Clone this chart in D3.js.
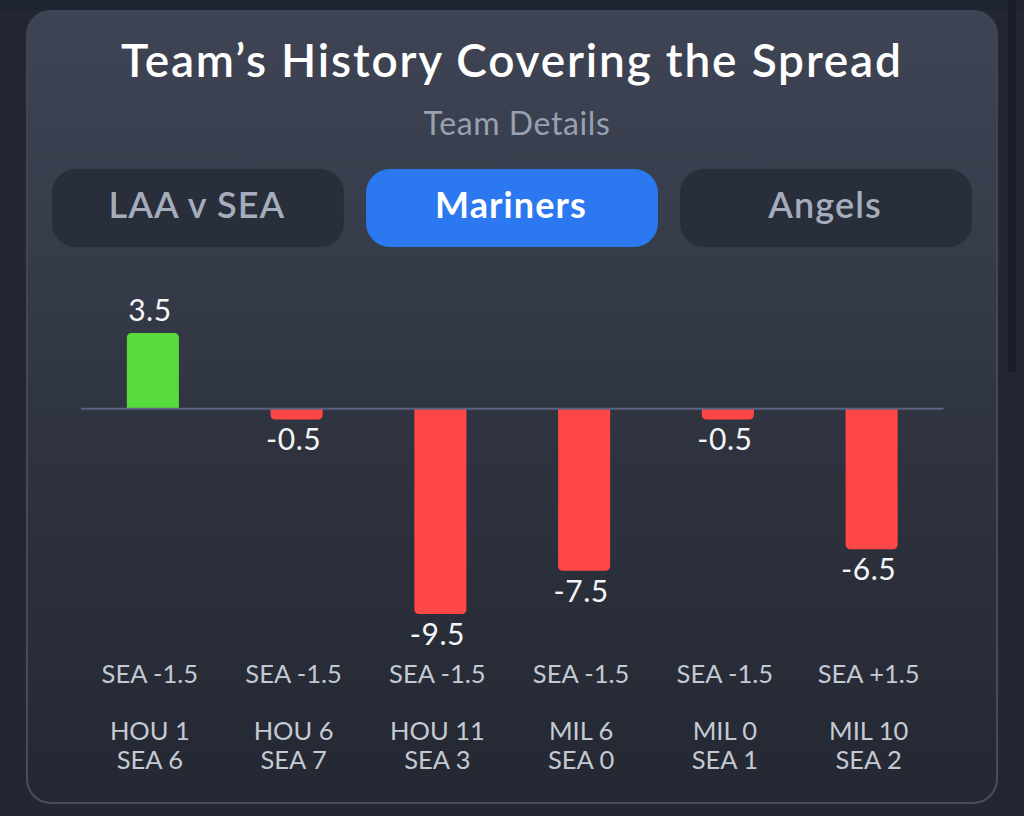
<!DOCTYPE html>
<html><head><meta charset="utf-8">
<script src="https://cdn.jsdelivr.net/npm/d3@7"></script>
<style>html,body{margin:0;padding:0;background:#1f2431;overflow:hidden}svg{display:block}text{font-family:Lato,sans-serif}</style>
</head><body><svg id="c" width="1024" height="816"></svg>
<script>
const games=["G1","G2","G3","G4","G5","G6"];
const covers=[3.5,-0.5,-9.5,-7.5,-0.5,-6.5];
const spreads=["SEA -1.5","SEA -1.5","SEA -1.5","SEA -1.5","SEA -1.5","SEA +1.5"];
const opponentScores=["HOU 1","HOU 6","HOU 11","MIL 6","MIL 0","MIL 10"];
const teamScores=["SEA 6","SEA 7","SEA 3","SEA 0","SEA 1","SEA 2"];
const tabs=["LAA v SEA","Mariners","Angels"];
const title="Team’s History Covering the Spread";
const subtitle="Team Details";

const svg=d3.select("#c");
const defs=svg.append("defs");
const g=defs.append("linearGradient").attr("id","card").attr("x1",0).attr("x2",0).attr("y1",0).attr("y2",1);
[[0,"#3e4453"],[0.3,"#363c4a"],[0.55,"#2e333f"],[1,"#232833"]].forEach(s=>g.append("stop").attr("offset",s[0]).attr("stop-color",s[1]));
const gb=defs.append("linearGradient").attr("id","cardb").attr("x1",0).attr("x2",0).attr("y1",0).attr("y2",1);
[[0,"#3e4453"],[1,"#484e5e"]].forEach(s=>gb.append("stop").attr("offset",s[0]).attr("stop-color",s[1]));

svg.append("rect").attr("width",1024).attr("height",816).attr("fill","#222733");
svg.append("rect").attr("width",1024).attr("height",10).attr("fill","#1f2431");
svg.append("rect").attr("x",1008).attr("width",8).attr("height",372).attr("fill","#1a1e2a");
svg.append("rect").attr("x",27).attr("y",11).attr("width",970).attr("height",792).attr("rx",24)
  .attr("fill","url(#card)").attr("stroke","url(#cardb)").attr("stroke-width",2);

svg.append("text").attr("x",511).attr("y",77).attr("text-anchor","middle").attr("fill","#fff")
  .attr("font-size",46).attr("font-weight",600).attr("textLength",780).text(title);
svg.append("text").attr("x",517).attr("y",135).attr("text-anchor","middle").attr("fill","#98a0b1")
  .attr("font-size",32).attr("letter-spacing",0.6).text(subtitle);

const tabX=d3.scaleBand().domain(tabs).range([52,972]).paddingInner(0.0705);
const tg=svg.selectAll(".tab").data(tabs).join("g").attr("class","tab");
tg.append("rect").attr("x",d=>tabX(d)).attr("y",169).attr("width",tabX.bandwidth()).attr("height",78).attr("rx",24)
  .attr("fill",d=>d==="Mariners"?"#2b78f0":"#292e3b");
tg.append("text").attr("x",d=>tabX(d)+tabX.bandwidth()/2-1).attr("y",218).attr("text-anchor","middle")
  .attr("font-size",36).attr("font-weight",d=>d==="Mariners"?700:600).attr("letter-spacing",1.1)
  .attr("fill",d=>d==="Mariners"?"#fff":"#a5adbc").text(d=>d);

const x=d3.scaleBand().domain(games).range([81,943.5]).paddingInner(0.638).paddingOuter(0.319);
const y=d3.scaleLinear().domain([-9.5,3.5]).range([614,333]);
const color=v=>v>=0?"#58dc3c":"#ff4747";
const r=5;
const barPath=(d,i)=>{
  const a=x(games[i]),w=x.bandwidth(),z=y(0),e=y(d);
  return d>=0
   ?`M${a},${z}V${e+r}Q${a},${e} ${a+r},${e}H${a+w-r}Q${a+w},${e} ${a+w},${e+r}V${z}Z`
   :`M${a},${z}V${e-r}Q${a},${e} ${a+r},${e}H${a+w-r}Q${a+w},${e} ${a+w},${e-r}V${z}Z`;
};
svg.selectAll(".bar").data(covers).join("path").attr("class","bar").attr("d",barPath).attr("fill",color);
svg.append("line").attr("x1",81).attr("x2",943.5).attr("y1",y(0)).attr("y2",y(0)).attr("stroke","#5c6180").attr("stroke-width",2);

const cx=i=>x(games[i])+x.bandwidth()/2-3;
svg.selectAll(".val").data(covers).join("text").attr("class","val")
  .attr("x",(d,i)=>x(games[i])+x.bandwidth()/2-3)
  .attr("y",d=>d>=0?y(d)-12:y(d)+31).attr("text-anchor","middle")
  .attr("fill","#f4f5f7").attr("font-size",30).attr("letter-spacing",0.5).text(d=>d);

const rows=[[spreads,683,25.5],[opponentScores,740,25.5],[teamScores,769,25.5]];
rows.forEach(([arr,yy,fs])=>{
  svg.append("g").selectAll("text").data(arr).join("text").attr("x",(d,i)=>cx(i)).attr("y",yy)
    .attr("text-anchor","middle").attr("fill","#c5c9d2").attr("font-size",fs).text(d=>d);
});
</script></body></html>
